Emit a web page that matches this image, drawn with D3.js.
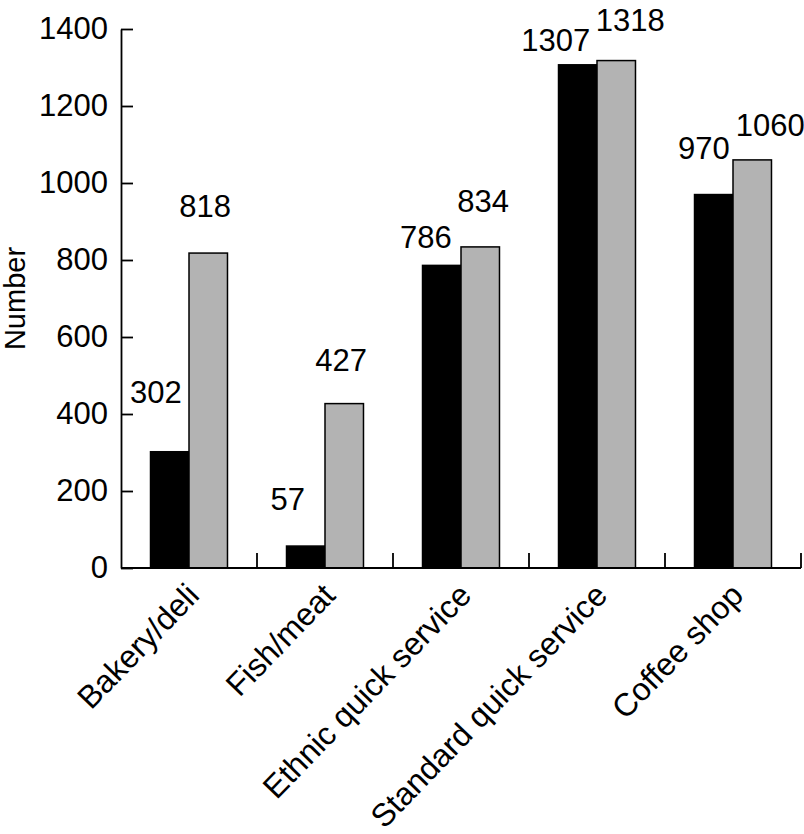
<!DOCTYPE html>
<html>
<head>
<meta charset="utf-8">
<script src="https://cdn.jsdelivr.net/npm/d3@7"></script>
<style>
  body { margin: 0; background: #fff; }
  text { font-family: "Liberation Sans", Arial, Helvetica, sans-serif; fill: #000; }
</style>
</head>
<body>
<div id="chart"></div>
<script>
// data
var categories = ["Bakery/deli", "Fish/meat", "Ethnic quick service", "Standard quick service", "Coffee shop"];
var seriesNames = ["first", "second"];
var firstValues = [302, 57, 786, 1307, 970];
var secondValues = [818, 427, 834, 1318, 1060];
var yTicks = [0, 200, 400, 600, 800, 1000, 1200, 1400];

// hand placed value labels in the original, offset in px from the bar top centre
var labelNudge = [
  [[-14, -49], [-3, -36]],
  [[-18, -36], [-3, -33]],
  [[-16, -17], [3, -35]],
  [[-22, -14], [14, -30]],
  [[-10, -36], [18, -24]]
];

var width = 804, height = 834;
var margin = {top: 29, left: 121, right: 3, bottom: 266};
var fontSize = 31;

var svg = d3.select("#chart")
  .append("svg")
    .attr("width", width)
    .attr("height", height);

var x = d3.scaleBand()
  .domain(categories)
  .range([margin.left, width - margin.right])
  .paddingInner(0.434)
  .paddingOuter(0.217);

var x1 = d3.scaleBand()
  .domain(seriesNames)
  .range([0, x.bandwidth()])
  .padding(0);

var y = d3.scaleLinear()
  .domain([0, 1400])
  .range([height - margin.bottom, margin.top]);

var fills = {first: "#000000", second: "#b3b3b3"};

var rows = categories.map(function(c, i) {
  return {cat: c, i: i, vals: [
    {key: "first", v: firstValues[i]},
    {key: "second", v: secondValues[i]}
  ]};
});

// bars
var groups = svg.selectAll(".grp")
  .data(rows)
  .enter()
  .append("g")
    .attr("class", "grp")
    .attr("transform", function(d) { return "translate(" + x(d.cat) + ",0)"; });

groups.selectAll("rect")
  .data(function(d) { return d.vals; })
  .enter()
  .append("rect")
    .attr("x", function(d) { return x1(d.key); })
    .attr("y", function(d) { return y(d.v); })
    .attr("width", x1.bandwidth())
    .attr("height", function(d) { return y(0) - y(d.v); })
    .attr("fill", function(d) { return fills[d.key]; })
    .attr("stroke", "#000")
    .attr("stroke-width", 1.5);

// value labels
groups.selectAll(".val")
  .data(function(d) { return d.vals.map(function(v, j) { return {v: v.v, key: v.key, n: labelNudge[d.i][j]}; }); })
  .enter()
  .append("text")
    .attr("class", "val")
    .attr("text-anchor", "middle")
    .attr("font-size", fontSize)
    .attr("x", function(d) { return x1(d.key) + x1.bandwidth() / 2 + d.n[0]; })
    .attr("y", function(d) { return y(d.v) + d.n[1]; })
    .text(function(d) { return d.v; });

// y axis, ticks point inward
var yAxis = svg.append("g")
  .attr("transform", "translate(" + margin.left + ",0)")
  .call(d3.axisLeft(y).tickValues(yTicks).tickFormat(d3.format("d"))
    .tickSizeInner(-12).tickSizeOuter(0).tickPadding(13));
yAxis.select(".domain").attr("stroke-width", 1.8);
yAxis.selectAll(".tick line").attr("stroke-width", 1.8);
yAxis.selectAll(".tick text").attr("font-size", fontSize).attr("font-family", "Liberation Sans, Arial, sans-serif");

// x axis baseline with upward ticks between categories
var x0 = margin.left, xEnd = width - margin.right;
svg.append("line")
  .attr("x1", x0).attr("x2", xEnd)
  .attr("y1", y(0)).attr("y2", y(0))
  .attr("stroke", "#000").attr("stroke-width", 1.8);

var bounds = d3.range(1, categories.length + 1).map(function(k) { return x0 + k * x.step(); });
svg.selectAll(".xtick")
  .data(bounds)
  .enter()
  .append("line")
    .attr("class", "xtick")
    .attr("x1", function(d) { return d; }).attr("x2", function(d) { return d; })
    .attr("y1", y(0)).attr("y2", y(0) - 15)
    .attr("stroke", "#000").attr("stroke-width", 1.8);

// category labels, rotated
svg.selectAll(".cat")
  .data(categories)
  .enter()
  .append("text")
    .attr("class", "cat")
    .attr("text-anchor", "end")
    .attr("font-size", 32)
    .attr("transform", function(d) {
      return "translate(" + (x(d) + x.bandwidth() / 2 + 12) + "," + (y(0) + 29) + ") rotate(-46)";
    })
    .text(function(d) { return d; });

// y title
svg.append("text")
  .attr("text-anchor", "middle")
  .attr("font-size", 29)
  .attr("transform", "translate(25," + y(700) + ") rotate(-90)")
  .text("Number");
</script>
</body>
</html>
